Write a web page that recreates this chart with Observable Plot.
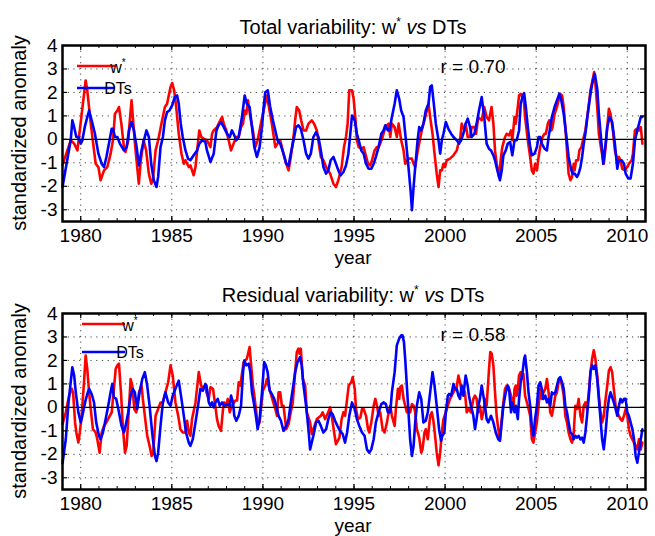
<!DOCTYPE html>
<html><head><meta charset="utf-8">
<script src="https://cdn.jsdelivr.net/npm/d3@7"></script>
<script src="https://cdn.jsdelivr.net/npm/@observablehq/plot@0.6"></script>
<style>
body{margin:0;background:#fff;}
#chart{width:655px;height:536px;}
#chart svg{display:block;}
</style></head><body><div id="chart"></div>
<script>
// ---- tick labels / categories ----
const xMajorTicks = [1980, 1985, 1990, 1995, 2000, 2005, 2010];
const xMinorTicks = [1979,1980,1981,1982,1983,1984,1985,1986,1987,1988,1989,1990,1991,1992,1993,1994,1995,1996,1997,1998,1999,2000,2001,2002,2003,2004,2005,2006,2007,2008,2009,2010];
const yTicks = [-3, -2, -1, 0, 1, 2, 3, 4];
const titles = ["Total variability", "Residual variability"];
const rValues = ["0.70", "0.58"];

// ---- series: [year, standardized anomaly] ----
const wTotal = [[1979.00,-1.10],[1979.45,-0.04],[1979.64,-0.18],[1979.82,-0.47],[1980.27,2.51],[1980.36,2.09],[1980.55,0.67],[1980.82,-1.04],[1980.97,-1.18],[1981.09,-1.74],[1981.28,-1.32],[1981.46,-1.18],[1981.64,-0.61],[1981.77,-0.04],[1981.88,1.09],[1982.01,1.23],[1982.10,1.38],[1982.23,0.67],[1982.37,-0.33],[1982.46,-0.54],[1982.61,-0.04],[1982.68,0.67],[1982.79,1.66],[1982.86,0.95],[1983.01,-0.47],[1983.19,-1.89],[1983.30,-0.89],[1983.45,-0.04],[1983.59,-0.47],[1983.74,-1.46],[1983.87,-1.89],[1983.96,-1.74],[1984.11,-0.47],[1984.25,-0.04],[1984.43,0.67],[1984.62,1.38],[1984.74,1.52],[1984.93,2.23],[1985.02,2.40],[1985.13,2.09],[1985.24,1.38],[1985.38,0.24],[1985.53,-0.61],[1985.66,-1.04],[1985.75,-0.89],[1985.93,-1.18],[1986.02,-1.11],[1986.20,-1.53],[1986.30,-1.18],[1986.39,-0.47],[1986.51,0.38],[1986.62,0.10],[1986.75,0.03],[1986.93,-0.04],[1987.12,-0.33],[1987.21,0.24],[1987.30,0.38],[1987.48,0.52],[1987.66,0.81],[1987.76,0.95],[1987.85,0.67],[1987.99,0.38],[1988.12,-0.04],[1988.25,-0.47],[1988.39,-0.18],[1988.54,0.10],[1988.67,0.10],[1988.80,0.52],[1988.91,0.67],[1989.00,1.23],[1989.09,1.09],[1989.18,1.66],[1989.31,0.95],[1989.45,0.38],[1989.58,-0.33],[1989.71,-0.04],[1989.85,0.52],[1990.00,1.09],[1990.22,1.87],[1990.49,0.67],[1990.68,-0.33],[1990.80,-0.18],[1990.95,-0.04],[1991.13,-0.61],[1991.28,-1.04],[1991.41,-1.32],[1991.53,-0.75],[1991.68,0.10],[1991.77,0.81],[1991.86,1.38],[1991.99,1.23],[1992.10,0.81],[1992.23,0.38],[1992.37,0.38],[1992.50,0.67],[1992.68,0.81],[1992.81,0.67],[1992.96,0.38],[1993.18,-0.75],[1993.32,-0.89],[1993.47,-1.18],[1993.69,-1.46],[1993.87,-1.89],[1994.01,-2.03],[1994.14,-1.74],[1994.32,-1.18],[1994.45,-0.33],[1994.56,0.10],[1994.65,0.67],[1994.74,2.09],[1994.89,2.09],[1994.98,1.73],[1995.07,0.95],[1995.16,-0.04],[1995.26,-0.33],[1995.44,-0.40],[1995.53,-0.33],[1995.62,-0.61],[1995.77,-1.04],[1995.89,-1.11],[1995.99,-0.89],[1996.13,-0.47],[1996.26,-0.33],[1996.35,-0.33],[1996.44,-0.18],[1996.57,0.10],[1996.72,0.52],[1996.90,0.67],[1996.99,0.10],[1997.08,0.67],[1997.23,0.52],[1997.35,0.10],[1997.45,0.67],[1997.59,-0.04],[1997.72,-0.47],[1997.81,-1.04],[1997.99,-0.82],[1998.18,-0.82],[1998.27,-1.04],[1998.36,-1.18],[1998.50,-0.47],[1998.72,0.38],[1998.91,0.95],[1999.09,1.52],[1999.18,0.95],[1999.31,0.24],[1999.42,-0.61],[1999.54,-1.46],[1999.64,-2.03],[1999.73,-1.32],[1999.82,-1.32],[1999.91,-1.04],[2000.00,-1.18],[2000.09,-0.89],[2000.27,-0.82],[2000.46,-0.68],[2000.64,-0.47],[2000.73,-0.18],[2000.82,-0.04],[2000.91,0.67],[2001.06,0.38],[2001.13,0.67],[2001.24,0.10],[2001.37,0.10],[2001.46,0.52],[2001.61,0.52],[2001.70,0.24],[2001.82,0.95],[2002.01,0.81],[2002.15,1.38],[2002.28,0.95],[2002.41,0.81],[2002.55,1.38],[2002.65,0.67],[2002.74,-0.47],[2002.83,-1.04],[2002.96,-1.60],[2003.07,-0.75],[2003.14,-0.33],[2003.29,0.10],[2003.38,0.24],[2003.51,0.17],[2003.62,0.38],[2003.69,-0.04],[2003.81,0.95],[2003.88,0.67],[2003.99,1.38],[2004.06,1.87],[2004.15,1.94],[2004.25,1.80],[2004.30,1.94],[2004.39,0.95],[2004.54,-0.04],[2004.67,-0.75],[2004.76,-1.32],[2004.85,-1.46],[2004.94,-1.04],[2005.04,-1.32],[2005.13,-0.75],[2005.22,-0.33],[2005.35,0.10],[2005.46,0.24],[2005.53,0.24],[2005.64,0.67],[2005.72,0.81],[2005.83,0.38],[2005.90,0.52],[2006.01,1.09],[2006.14,1.38],[2006.23,1.66],[2006.32,1.94],[2006.42,1.87],[2006.51,1.38],[2006.60,0.52],[2006.69,-0.47],[2006.78,-1.46],[2006.88,-1.74],[2006.97,-1.60],[2007.06,-1.04],[2007.11,-1.32],[2007.19,-0.89],[2007.30,-0.89],[2007.37,-0.47],[2007.48,-0.33],[2007.61,0.10],[2007.70,0.38],[2007.85,1.23],[2007.98,2.09],[2008.11,2.58],[2008.18,2.87],[2008.25,2.37],[2008.35,1.38],[2008.44,0.24],[2008.58,-0.47],[2008.71,-1.04],[2008.81,-0.33],[2008.90,0.52],[2008.99,1.30],[2009.08,1.09],[2009.21,0.38],[2009.32,-0.47],[2009.45,-0.89],[2009.54,-0.75],[2009.63,-0.89],[2009.72,-1.25],[2009.87,-1.32],[2010.00,-1.18],[2010.09,-1.04],[2010.24,-0.89],[2010.31,-0.61],[2010.42,0.38],[2010.51,0.45],[2010.64,0.38],[2010.74,0.52],[2010.83,-0.18]];

const dtTotal = [[1979.00,-2.03],[1979.45,-0.04],[1979.54,0.81],[1979.64,0.52],[1979.76,0.10],[1979.87,0.10],[1980.00,-0.18],[1980.09,-0.04],[1980.22,0.52],[1980.36,0.95],[1980.46,1.23],[1980.60,0.81],[1980.78,0.24],[1980.97,-0.61],[1981.15,-1.04],[1981.28,-1.18],[1981.41,-0.75],[1981.55,-0.18],[1981.70,0.45],[1981.77,0.45],[1981.88,0.10],[1982.01,0.10],[1982.15,-0.18],[1982.37,-0.47],[1982.52,-0.33],[1982.65,0.38],[1982.79,0.74],[1982.92,0.38],[1983.07,-0.33],[1983.19,-1.11],[1983.34,-0.47],[1983.47,-0.04],[1983.61,0.38],[1983.74,0.10],[1983.87,-1.04],[1984.01,-1.74],[1984.16,-2.03],[1984.25,-1.60],[1984.38,-0.33],[1984.51,0.10],[1984.62,0.81],[1984.74,1.16],[1984.87,1.23],[1985.02,1.45],[1985.16,1.80],[1985.29,1.87],[1985.38,1.52],[1985.49,0.67],[1985.60,0.10],[1985.75,-0.47],[1985.89,-0.82],[1986.02,-0.89],[1986.20,-0.68],[1986.39,-0.47],[1986.51,-0.18],[1986.66,-0.04],[1986.84,-0.11],[1986.93,-0.47],[1987.12,-0.96],[1987.30,-0.61],[1987.45,0.38],[1987.57,0.60],[1987.70,0.74],[1987.85,0.52],[1988.03,0.24],[1988.18,0.10],[1988.30,0.38],[1988.39,0.24],[1988.54,-0.04],[1988.67,0.10],[1988.85,0.95],[1989.00,1.87],[1989.12,1.52],[1989.27,1.38],[1989.40,0.52],[1989.53,-0.33],[1989.67,-0.75],[1989.82,-0.33],[1989.95,0.52],[1990.04,1.38],[1990.13,2.01],[1990.27,2.09],[1990.40,1.38],[1990.55,0.81],[1990.68,0.38],[1990.80,-0.04],[1990.95,-0.18],[1991.13,-0.61],[1991.28,-1.04],[1991.41,-1.11],[1991.53,-0.61],[1991.68,-0.04],[1991.82,0.52],[1991.95,0.60],[1992.08,0.45],[1992.23,-0.04],[1992.37,-0.61],[1992.50,-0.82],[1992.63,-0.61],[1992.77,0.10],[1992.92,0.31],[1993.05,0.10],[1993.18,-0.47],[1993.32,-1.18],[1993.47,-1.46],[1993.59,-1.32],[1993.72,-0.89],[1993.87,-0.75],[1994.01,-1.04],[1994.14,-1.32],[1994.27,-1.53],[1994.42,-1.39],[1994.56,-1.11],[1994.69,-0.61],[1994.78,0.10],[1994.89,1.02],[1995.04,0.81],[1995.16,0.24],[1995.26,-0.04],[1995.40,-0.47],[1995.53,-0.61],[1995.66,-1.04],[1995.80,-1.25],[1995.95,-1.25],[1996.08,-1.04],[1996.20,-0.75],[1996.35,-0.33],[1996.50,0.24],[1996.62,0.38],[1996.72,0.60],[1996.86,0.38],[1996.95,0.38],[1997.08,0.95],[1997.23,1.52],[1997.35,2.09],[1997.48,1.73],[1997.59,1.23],[1997.72,0.95],[1997.85,-0.04],[1997.99,-1.18],[1998.12,-2.31],[1998.18,-3.02],[1998.27,-2.03],[1998.36,-1.18],[1998.49,-0.04],[1998.58,0.52],[1998.69,0.38],[1998.81,0.67],[1998.94,1.23],[1999.09,1.52],[1999.18,2.23],[1999.27,2.30],[1999.38,1.52],[1999.49,0.67],[1999.64,-0.04],[1999.73,-0.61],[1999.82,-0.04],[1999.91,0.24],[2000.04,0.74],[2000.18,0.45],[2000.33,0.24],[2000.46,0.10],[2000.64,-0.04],[2000.77,-0.18],[2000.88,-0.04],[2001.00,0.24],[2001.13,0.67],[2001.24,0.88],[2001.37,0.52],[2001.46,0.10],[2001.61,0.24],[2001.73,0.67],[2001.86,1.23],[2002.01,1.80],[2002.15,0.95],[2002.28,-0.18],[2002.41,-0.40],[2002.52,-0.47],[2002.65,-0.68],[2002.74,-0.89],[2002.87,-1.32],[2003.01,-1.74],[2003.11,-1.32],[2003.20,-0.68],[2003.33,-0.47],[2003.44,-0.18],[2003.57,-0.11],[2003.69,-0.68],[2003.81,-0.04],[2003.93,-0.04],[2004.06,0.38],[2004.15,1.52],[2004.25,1.80],[2004.34,1.97],[2004.43,1.38],[2004.54,0.52],[2004.67,-0.33],[2004.76,-0.68],[2004.91,-0.61],[2005.04,-0.33],[2005.13,0.10],[2005.22,0.10],[2005.31,-0.18],[2005.46,-0.40],[2005.59,-0.47],[2005.68,0.10],[2005.77,0.52],[2005.86,0.95],[2006.01,1.38],[2006.14,1.66],[2006.27,1.94],[2006.38,1.66],[2006.51,1.09],[2006.64,0.24],[2006.78,-0.75],[2006.93,-1.32],[2007.00,-1.46],[2007.11,-1.46],[2007.24,-1.60],[2007.33,-1.46],[2007.43,-1.18],[2007.52,-0.75],[2007.61,-0.18],[2007.70,0.24],[2007.83,1.09],[2007.98,1.94],[2008.11,2.51],[2008.22,2.79],[2008.35,2.16],[2008.44,1.09],[2008.57,-0.04],[2008.68,-1.04],[2008.81,-0.18],[2008.90,0.52],[2009.03,0.95],[2009.17,0.74],[2009.32,-0.18],[2009.45,-1.25],[2009.54,-0.89],[2009.69,-0.89],[2009.82,-1.04],[2009.91,-1.46],[2010.06,-1.67],[2010.18,-1.67],[2010.31,-1.04],[2010.42,-0.04],[2010.55,0.38],[2010.74,0.95],[2010.83,0.95]];

const wResid = [[1979.00,-0.71],[1979.18,-0.21],[1979.36,0.50],[1979.51,0.79],[1979.58,0.64],[1979.69,-0.64],[1979.76,-1.07],[1979.87,-1.50],[1979.95,-1.07],[1980.05,-0.36],[1980.18,1.07],[1980.27,2.21],[1980.36,1.64],[1980.46,0.64],[1980.55,-0.07],[1980.67,-0.93],[1980.82,-1.07],[1980.91,-1.36],[1981.04,-1.93],[1981.15,-1.07],[1981.28,-0.79],[1981.41,-0.64],[1981.55,-0.43],[1981.70,-0.21],[1981.82,0.79],[1981.92,1.64],[1982.01,1.79],[1982.10,1.86],[1982.21,0.64],[1982.32,-0.93],[1982.43,-1.93],[1982.52,-1.64],[1982.61,-0.50],[1982.74,1.21],[1982.83,0.93],[1982.94,-0.07],[1983.05,-0.21],[1983.20,0.64],[1983.34,0.93],[1983.41,0.36],[1983.52,-0.36],[1983.65,-1.21],[1983.78,-1.64],[1983.89,-2.07],[1983.98,-1.93],[1984.11,-0.36],[1984.25,-0.07],[1984.38,0.21],[1984.51,0.21],[1984.65,0.64],[1984.80,1.07],[1984.93,1.79],[1985.05,1.36],[1985.20,0.21],[1985.35,-0.36],[1985.47,-0.93],[1985.60,-1.07],[1985.75,-1.07],[1985.84,-0.57],[1985.93,-1.07],[1986.02,-1.21],[1986.11,-0.50],[1986.30,0.21],[1986.48,1.50],[1986.61,0.93],[1986.72,0.79],[1986.84,0.93],[1986.90,0.64],[1987.03,0.36],[1987.12,0.86],[1987.26,0.79],[1987.39,0.07],[1987.48,-0.50],[1987.57,-0.79],[1987.70,-1.00],[1987.81,-0.07],[1987.88,0.21],[1987.99,0.07],[1988.07,0.36],[1988.18,-0.21],[1988.30,0.07],[1988.49,0.29],[1988.58,0.29],[1988.67,1.07],[1988.76,0.93],[1988.94,1.93],[1989.12,2.07],[1989.27,2.57],[1989.34,1.93],[1989.45,0.93],[1989.53,0.50],[1989.64,-0.21],[1989.71,-0.79],[1989.82,-0.64],[1989.89,-0.07],[1990.00,0.71],[1990.13,0.93],[1990.22,1.21],[1990.31,0.93],[1990.49,0.43],[1990.68,-0.07],[1990.77,-0.36],[1990.86,0.64],[1990.95,0.64],[1991.04,0.07],[1991.13,0.07],[1991.28,-0.93],[1991.41,-0.71],[1991.53,-0.21],[1991.64,0.21],[1991.77,1.50],[1991.86,2.36],[1991.95,2.50],[1992.01,2.29],[1992.08,2.50],[1992.19,1.21],[1992.32,0.93],[1992.41,-0.21],[1992.59,-0.64],[1992.68,-1.14],[1992.77,-0.93],[1992.96,-0.50],[1993.18,-0.36],[1993.28,-0.21],[1993.41,-0.50],[1993.54,-0.29],[1993.69,0.00],[1993.78,-0.36],[1993.91,-1.07],[1994.01,-1.57],[1994.20,-1.29],[1994.32,-0.50],[1994.42,-0.21],[1994.51,-0.36],[1994.60,0.21],[1994.71,0.93],[1994.85,1.07],[1994.93,1.29],[1995.04,0.79],[1995.11,-0.07],[1995.22,-0.50],[1995.35,-0.43],[1995.44,-0.07],[1995.53,-0.07],[1995.66,-0.36],[1995.77,-0.93],[1995.84,-1.07],[1995.95,-0.64],[1996.08,0.07],[1996.17,0.36],[1996.26,0.07],[1996.35,-0.36],[1996.44,-0.21],[1996.57,-0.93],[1996.68,-1.07],[1996.81,-0.64],[1996.90,-0.21],[1996.99,0.07],[1997.08,-0.36],[1997.23,-0.79],[1997.30,-0.07],[1997.41,0.79],[1997.48,0.36],[1997.54,0.86],[1997.63,0.93],[1997.72,0.36],[1997.81,0.07],[1997.90,-0.21],[1997.99,-0.07],[1998.08,-0.21],[1998.18,0.14],[1998.27,0.07],[1998.36,-0.21],[1998.45,-0.93],[1998.58,-1.29],[1998.69,-1.93],[1998.76,-1.79],[1998.87,-1.07],[1998.94,-0.93],[1999.05,-1.36],[1999.18,-0.36],[1999.27,-0.21],[1999.36,-0.57],[1999.45,-1.21],[1999.54,-1.93],[1999.64,-2.47],[1999.73,-1.93],[1999.82,-1.07],[1999.91,-0.50],[2000.04,-0.21],[2000.15,0.07],[2000.27,0.36],[2000.36,0.50],[2000.51,0.71],[2000.64,0.86],[2000.73,1.36],[2000.82,1.07],[2000.91,0.64],[2001.00,0.79],[2001.09,0.64],[2001.19,-0.21],[2001.31,-0.07],[2001.42,-0.21],[2001.55,0.36],[2001.64,0.50],[2001.73,0.36],[2001.82,-0.21],[2001.91,0.07],[2002.01,-0.50],[2002.10,-0.21],[2002.19,0.36],[2002.28,0.07],[2002.40,1.50],[2002.48,2.36],[2002.56,2.29],[2002.65,1.79],[2002.74,0.64],[2002.83,-0.36],[2002.92,-0.93],[2003.01,-1.36],[2003.11,-0.50],[2003.20,0.21],[2003.29,0.79],[2003.38,0.93],[2003.47,0.86],[2003.57,0.64],[2003.66,0.36],[2003.75,-0.07],[2003.81,0.79],[2003.88,0.93],[2003.93,0.50],[2003.99,0.79],[2004.06,1.36],[2004.15,1.50],[2004.25,1.21],[2004.30,1.43],[2004.39,0.50],[2004.54,0.07],[2004.67,-0.36],[2004.76,-1.36],[2004.85,-1.50],[2004.94,-1.07],[2005.04,-0.64],[2005.13,0.07],[2005.22,0.79],[2005.31,0.36],[2005.40,0.64],[2005.50,0.79],[2005.59,1.21],[2005.68,0.64],[2005.77,-0.21],[2005.86,-0.36],[2005.96,0.07],[2006.05,0.50],[2006.14,0.64],[2006.23,1.07],[2006.32,1.21],[2006.42,0.93],[2006.51,0.50],[2006.60,-0.36],[2006.69,-0.64],[2006.78,-1.07],[2006.88,-1.36],[2006.97,-1.50],[2007.06,-1.07],[2007.15,0.07],[2007.24,-0.07],[2007.33,0.36],[2007.43,-0.36],[2007.52,-0.64],[2007.61,0.07],[2007.70,0.21],[2007.79,-0.07],[2007.89,0.64],[2007.98,1.50],[2008.07,2.07],[2008.16,2.43],[2008.25,2.07],[2008.35,1.36],[2008.44,0.50],[2008.53,-0.21],[2008.62,-0.64],[2008.71,-0.36],[2008.81,0.36],[2008.90,0.93],[2008.99,1.57],[2009.08,1.71],[2009.17,1.50],[2009.26,0.79],[2009.36,0.07],[2009.45,-0.21],[2009.54,-0.36],[2009.63,-0.50],[2009.72,-0.57],[2009.82,-0.36],[2009.91,-0.07],[2010.00,-0.36],[2010.09,-0.93],[2010.18,-1.21],[2010.28,-1.36],[2010.37,-1.50],[2010.46,-1.64],[2010.55,-1.79],[2010.64,-1.36],[2010.74,-1.79],[2010.83,-1.50]];

const dtResid = [[1979.00,-2.40],[1979.18,-1.36],[1979.33,0.21],[1979.45,1.07],[1979.54,1.71],[1979.64,1.36],[1979.73,0.64],[1979.87,-0.21],[1980.00,-0.64],[1980.09,-0.36],[1980.24,0.21],[1980.36,0.57],[1980.46,0.79],[1980.60,0.57],[1980.73,0.21],[1980.85,-0.64],[1981.00,-1.21],[1981.09,-1.36],[1981.22,-1.07],[1981.37,-0.50],[1981.51,0.07],[1981.64,0.64],[1981.73,1.00],[1981.82,0.43],[1981.95,0.36],[1982.10,-0.21],[1982.24,-0.79],[1982.37,-1.07],[1982.46,-0.79],[1982.61,-0.21],[1982.74,0.50],[1982.86,0.79],[1982.97,0.64],[1983.10,-0.07],[1983.23,0.64],[1983.38,1.21],[1983.52,1.50],[1983.65,0.93],[1983.78,0.07],[1983.92,-1.07],[1984.07,-2.07],[1984.16,-2.29],[1984.25,-1.93],[1984.38,-0.79],[1984.51,0.21],[1984.65,0.64],[1984.80,0.21],[1984.93,0.07],[1985.05,0.50],[1985.20,0.79],[1985.38,1.14],[1985.53,0.36],[1985.66,-0.36],[1985.78,-1.07],[1985.93,-1.50],[1986.02,-1.64],[1986.15,-1.36],[1986.30,-0.64],[1986.44,0.07],[1986.57,0.79],[1986.70,0.71],[1986.84,1.00],[1986.90,0.93],[1987.03,0.21],[1987.12,0.07],[1987.21,0.21],[1987.30,0.00],[1987.39,0.21],[1987.52,0.36],[1987.63,0.07],[1987.76,0.21],[1987.88,0.07],[1988.03,0.14],[1988.18,0.07],[1988.25,0.50],[1988.36,0.21],[1988.43,-0.36],[1988.54,-0.57],[1988.67,-0.36],[1988.80,0.07],[1988.91,1.50],[1988.98,2.00],[1989.09,1.79],[1989.22,1.86],[1989.31,1.50],[1989.40,0.64],[1989.53,0.07],[1989.64,-0.50],[1989.71,-0.93],[1989.82,-0.50],[1989.95,0.64],[1990.07,1.93],[1990.16,1.79],[1990.26,1.50],[1990.37,0.71],[1990.49,0.57],[1990.62,0.36],[1990.73,0.07],[1990.86,-0.36],[1990.99,-0.57],[1991.13,-1.00],[1991.28,-0.79],[1991.41,-0.50],[1991.53,0.21],[1991.64,0.79],[1991.77,1.50],[1991.90,1.93],[1992.04,2.14],[1992.13,1.79],[1992.23,0.93],[1992.37,0.07],[1992.50,-0.93],[1992.59,-1.79],[1992.68,-1.50],[1992.77,-1.21],[1992.92,-0.64],[1993.05,-0.57],[1993.18,-0.79],[1993.32,-1.07],[1993.47,-0.93],[1993.59,-0.50],[1993.72,-0.21],[1993.83,-0.29],[1993.96,-0.57],[1994.09,-0.79],[1994.23,-1.00],[1994.38,-1.14],[1994.51,-1.50],[1994.62,-1.07],[1994.74,-0.36],[1994.89,0.21],[1995.04,-0.07],[1995.16,-0.50],[1995.29,-0.79],[1995.44,-1.07],[1995.58,-1.21],[1995.71,-1.79],[1995.84,-1.93],[1995.95,-1.79],[1996.08,-1.36],[1996.20,-0.64],[1996.35,-0.21],[1996.50,0.14],[1996.62,0.21],[1996.75,0.14],[1996.86,-0.21],[1996.99,-0.21],[1997.08,0.64],[1997.23,1.50],[1997.35,2.64],[1997.48,2.93],[1997.59,3.07],[1997.66,3.07],[1997.74,2.79],[1997.81,2.07],[1997.90,0.93],[1997.99,-0.21],[1998.08,-1.36],[1998.18,-2.07],[1998.27,-1.64],[1998.36,-0.64],[1998.45,0.07],[1998.58,0.64],[1998.69,0.36],[1998.81,-0.64],[1998.94,-0.57],[1999.05,-0.21],[1999.18,0.64],[1999.31,1.50],[1999.42,0.93],[1999.54,0.07],[1999.67,-0.93],[1999.78,-1.43],[1999.85,-1.21],[1999.96,-1.07],[2000.04,-0.21],[2000.15,0.50],[2000.22,0.57],[2000.33,0.50],[2000.46,1.00],[2000.55,0.79],[2000.64,0.79],[2000.73,0.50],[2000.82,0.36],[2000.91,0.93],[2001.00,0.50],[2001.13,1.36],[2001.24,0.93],[2001.31,0.50],[2001.42,0.07],[2001.55,-0.36],[2001.64,-0.93],[2001.73,-0.50],[2001.82,0.07],[2001.91,0.36],[2002.01,0.93],[2002.10,0.50],[2002.19,0.07],[2002.28,-0.50],[2002.37,-0.64],[2002.52,-0.36],[2002.65,-0.64],[2002.78,-1.07],[2002.92,-1.36],[2003.01,-1.43],[2003.11,-0.64],[2003.20,0.07],[2003.33,0.64],[2003.44,0.93],[2003.51,0.79],[2003.62,-0.21],[2003.69,0.21],[2003.81,-0.21],[2003.88,0.07],[2003.99,-0.50],[2004.06,0.36],[2004.15,1.07],[2004.25,1.50],[2004.34,2.07],[2004.39,2.21],[2004.49,1.50],[2004.58,0.64],[2004.67,0.07],[2004.76,-0.79],[2004.85,-1.21],[2004.94,-0.50],[2005.04,0.07],[2005.13,0.93],[2005.22,1.07],[2005.31,0.79],[2005.40,0.36],[2005.50,0.50],[2005.59,0.21],[2005.68,0.36],[2005.77,0.07],[2005.86,0.64],[2005.96,0.57],[2006.05,0.64],[2006.14,0.93],[2006.23,1.21],[2006.32,1.29],[2006.42,1.07],[2006.51,0.79],[2006.60,0.07],[2006.69,-0.21],[2006.78,-0.64],[2006.88,-1.07],[2006.97,-1.14],[2007.06,-1.36],[2007.15,-1.21],[2007.24,-1.29],[2007.33,-1.21],[2007.43,-1.36],[2007.52,-1.29],[2007.61,-1.50],[2007.70,-1.07],[2007.79,-0.36],[2007.89,0.50],[2007.98,1.50],[2008.07,1.79],[2008.16,1.64],[2008.25,1.79],[2008.35,1.21],[2008.44,0.36],[2008.53,-0.50],[2008.62,-1.36],[2008.71,-1.79],[2008.81,-1.07],[2008.90,-0.21],[2008.99,0.36],[2009.08,0.64],[2009.17,0.43],[2009.26,0.21],[2009.36,-0.07],[2009.45,-0.36],[2009.54,0.07],[2009.63,0.36],[2009.72,0.21],[2009.82,0.36],[2009.91,0.36],[2010.00,-0.21],[2010.09,-0.36],[2010.18,-0.64],[2010.28,-0.93],[2010.37,-1.36],[2010.46,-2.07],[2010.55,-2.36],[2010.64,-1.93],[2010.74,-1.36],[2010.83,-0.93]];

const FONT = "'Liberation Sans', Arial, Helvetica, sans-serif";
const RED = "#ff0000", BLUE = "#0000ff";

function panel(title, rText, red, blue, leg) {
  const W = 655, H = 268, mT = 45, mB = 47, mL = 62, mR = 10;
  const fw = W - mL - mR, fh = H - mT - mB;
  const svg = Plot.plot({
    width: W, height: H,
    marginTop: mT, marginBottom: mB, marginLeft: mL, marginRight: mR,
    style: {fontFamily: FONT, fontSize: "19px", color: "#000", background: "#fff", overflow: "visible"},
    x: {domain: [1979, 2011]},
    y: {domain: [-3.5, 4]},
    marks: [
      Plot.ruleX(xMajorTicks, {x: d => d, stroke: "#000", strokeWidth: 1, strokeOpacity: 0.75, strokeDasharray: "1.2,4.5"}),
      Plot.ruleY(yTicks.filter(d => d !== 0 && d !== 4), {y: d => d, stroke: "#000", strokeWidth: 1, strokeOpacity: 0.75, strokeDasharray: "1.2,4.5"}),
      Plot.line(red, {x: d => d[0], y: d => d[1], stroke: RED, strokeWidth: 2.6, strokeLinejoin: "round"}),
      Plot.line(blue, {x: d => d[0], y: d => d[1], stroke: BLUE, strokeWidth: 2.6, strokeLinejoin: "round"}),
      Plot.ruleY([0], {y: d => d, stroke: "#000", strokeWidth: 1.2}),
      Plot.tickX(xMinorTicks, {x: d => d, insetTop: fh - 3, stroke: "#000", strokeWidth: 1}),
      Plot.tickX(xMinorTicks, {x: d => d, insetBottom: fh - 3, stroke: "#000", strokeWidth: 1}),
      Plot.tickX(xMajorTicks, {x: d => d, insetTop: fh - 5, stroke: "#000", strokeWidth: 1.2}),
      Plot.tickX(xMajorTicks, {x: d => d, insetBottom: fh - 5, stroke: "#000", strokeWidth: 1.2}),
      Plot.tickY(yTicks, {y: d => d, insetRight: fw - 5, stroke: "#000", strokeWidth: 1.2}),
      Plot.tickY(yTicks, {y: d => d, insetLeft: fw - 5, stroke: "#000", strokeWidth: 1.2}),
      Plot.axisX(xMajorTicks, {tickSize: 0, tickPadding: 7, tickFormat: d => String(d), label: null, fontSize: 19}),
      Plot.axisY(yTicks, {tickSize: 0, tickPadding: 5, tickFormat: d => String(d), label: null, fontSize: 19}),
      Plot.frame({stroke: "#000", strokeWidth: 2.5})
    ]
  });
  const s = d3.select(svg);
  const g = s.append("g").attr("font-family", FONT).attr("fill", "#000").style("white-space", "pre");
  // title
  const t = g.append("text").attr("x", 353).attr("y", 34).attr("text-anchor", "middle").attr("font-size", 20);
  t.append("tspan").text(title + ": w");
  t.append("tspan").attr("font-size", 12).attr("dy", -8).text("*");
  t.append("tspan").attr("dy", 8).text(" ");
  t.append("tspan").attr("font-style", "italic").text("vs");
  t.append("tspan").text(" DTs");
  // y label
  g.append("text").attr("transform", `translate(26,${(mT + H - mB) / 2}) rotate(-90)`)
    .attr("text-anchor", "middle").attr("font-size", 20).text("standardized anomaly");
  // x label
  g.append("text").attr("x", 353).attr("y", 264).attr("text-anchor", "middle").attr("font-size", 19).text("year");
  // r value
  g.append("text").attr("x", 473).attr("y", 73).attr("font-size", 19).text("r = " + rText);
  // legend
  g.append("line").attr("x1", leg.x1).attr("x2", leg.x2).attr("y1", leg.y1).attr("y2", leg.y1).attr("stroke", RED).attr("stroke-width", 2.6);
  g.append("line").attr("x1", leg.x1).attr("x2", leg.x2).attr("y1", leg.y2).attr("y2", leg.y2).attr("stroke", BLUE).attr("stroke-width", 2.6);
  const lw = g.append("text").attr("x", leg.tx).attr("y", leg.y1 + 7).attr("font-size", 16);
  lw.append("tspan").text("w");
  lw.append("tspan").attr("font-size", 10).attr("dy", -7).text("*");
  g.append("text").attr("x", leg.tx).attr("y", leg.y2 + 6).attr("font-size", 16).text("DTs");
  return svg;
}

const root = document.getElementById("chart");
root.appendChild(panel(titles[0], rValues[0], wTotal, dtTotal, {x1: 77, x2: 115, tx: 118, y1: 66, y2: 88}));
root.appendChild(panel(titles[1], rValues[1], wResid, dtResid, {x1: 82, x2: 125, tx: 130, y1: 56, y2: 84}));
</script>
</body></html>
